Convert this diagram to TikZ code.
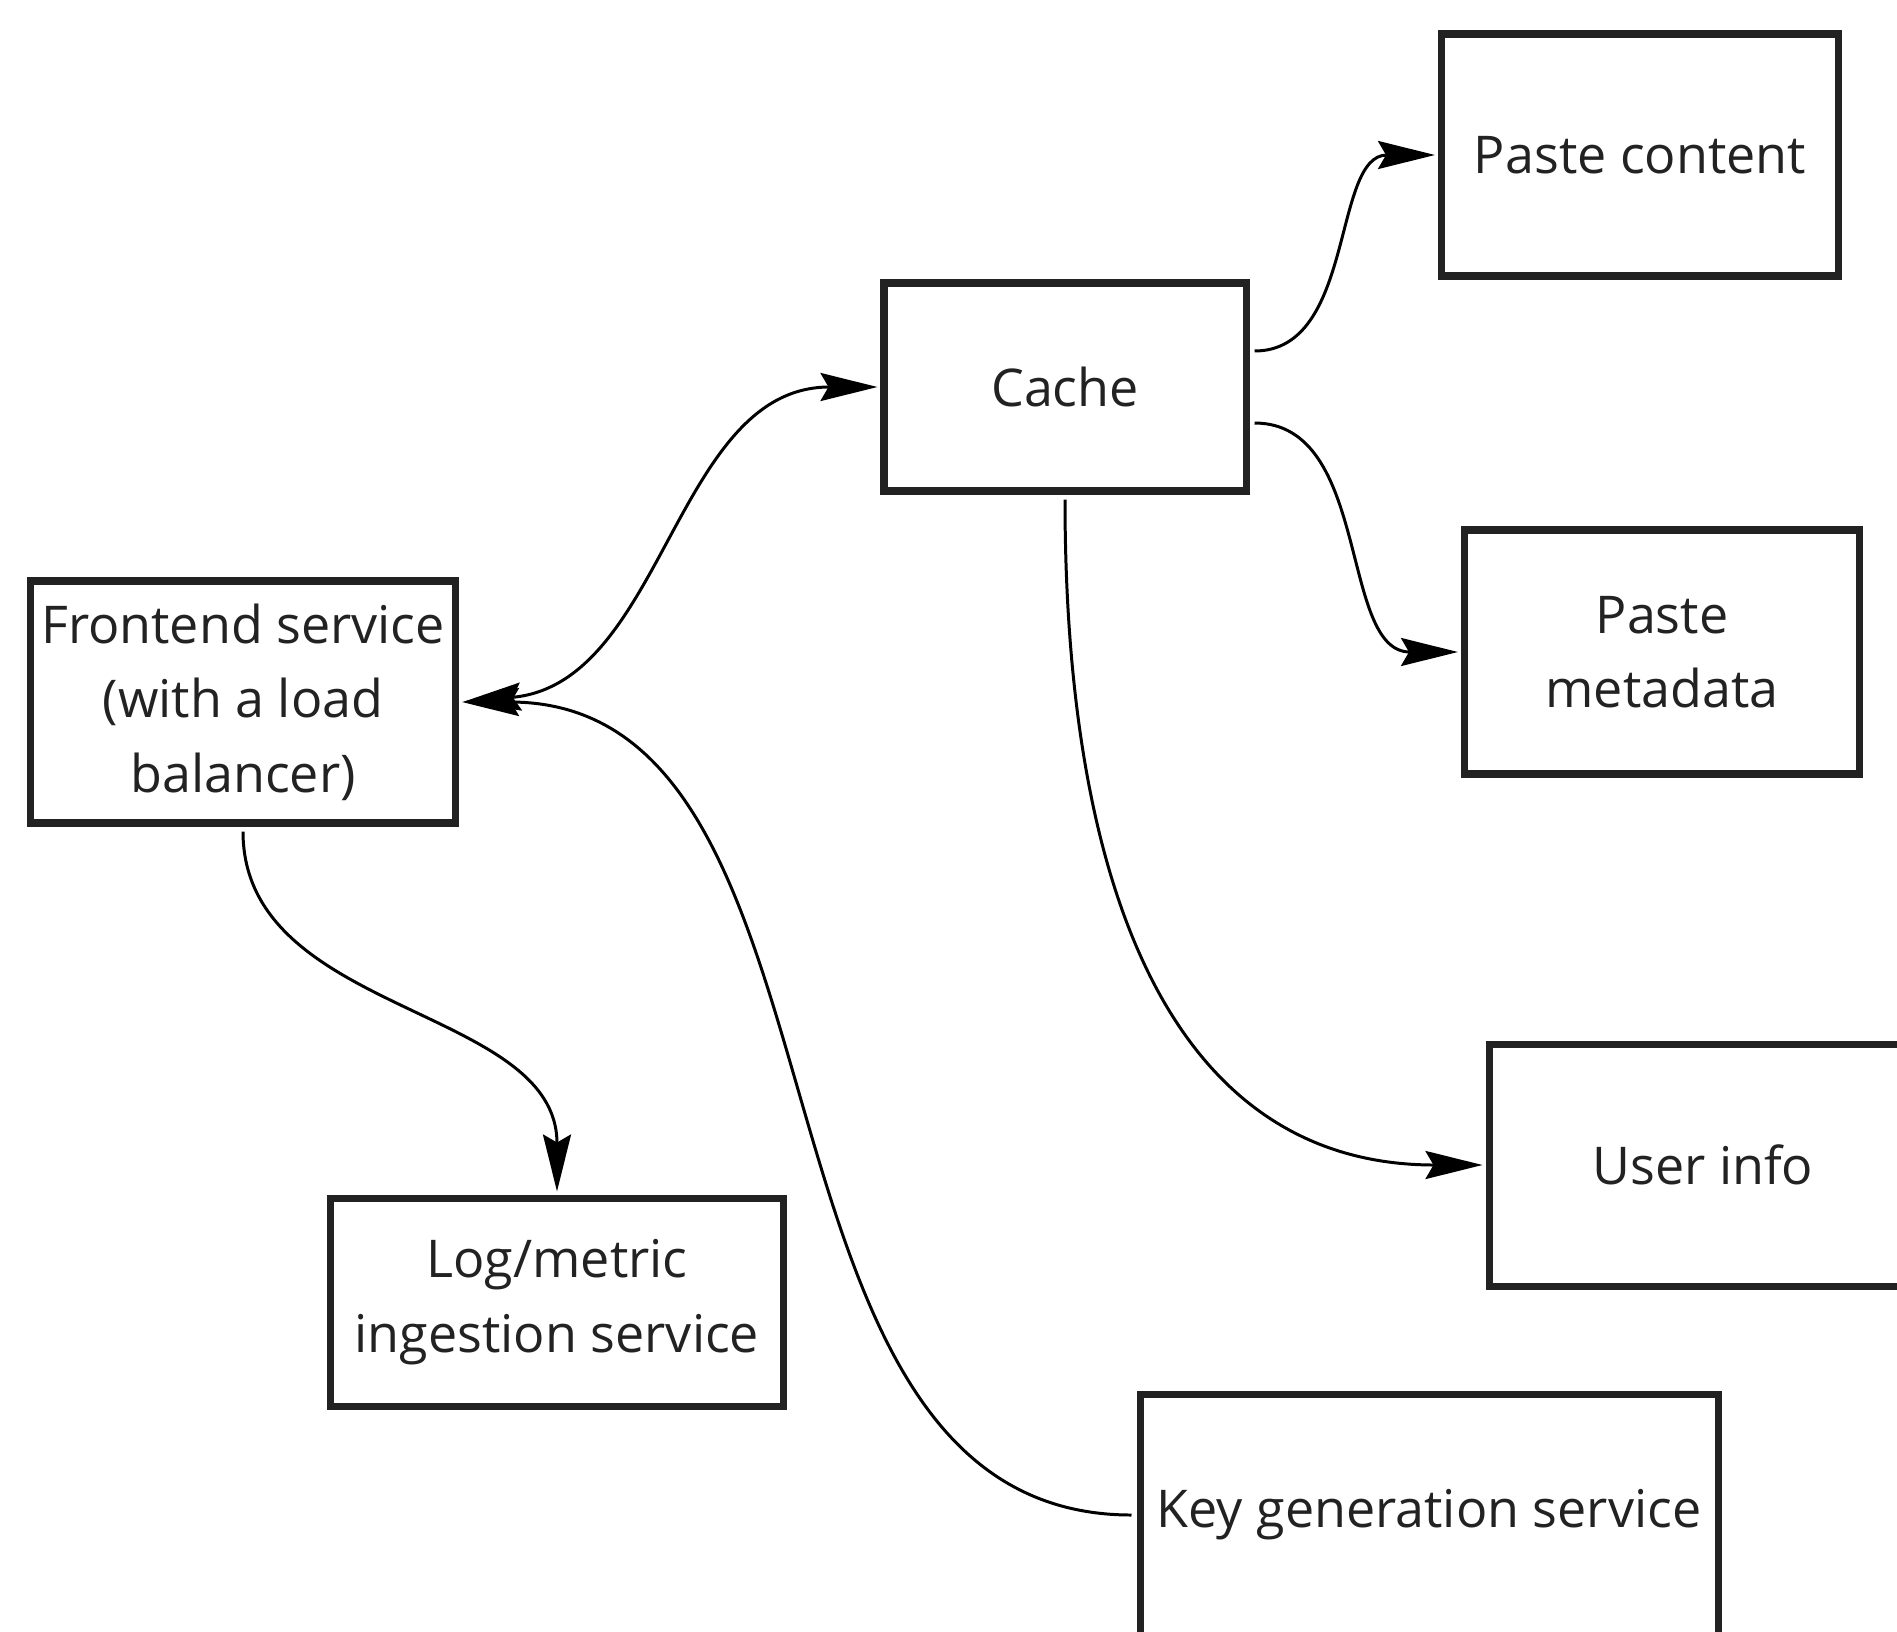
\documentclass[tikz,border=0pt]{standalone}
\definecolor{Ink}{RGB}{34, 34, 34}
\usepackage{fontspec}
\setmainfont{Open Sans}
\usepackage{tikz}
\usetikzlibrary{arrows.meta, positioning}

\begin{document}
\begin{tikzpicture}[
        box/.style={rectangle, draw=Ink, line width=2pt, fill=white, text=Ink, align=center, inner sep=2pt, font=\fontsize{14.8}{21.2}\selectfont},
        arrow/.style={->, line width=0.85pt, >={Stealth[length=5.7mm, width=2.8mm, inset=0.8mm]}, shorten >=0.3mm, shorten <=0.5mm}
    ]
        \useasboundingbox (0,0) rectangle (18.97,-16.31);
        \clip (0,0) rectangle (18.97,-16.31);
        % storage side
        \node[box, minimum width=3.97cm, minimum height=2.42cm] (content) at (16.40,-1.55) {Paste content};
        \node[box, minimum width=3.62cm, minimum height=2.08cm] (cache) at (10.65,-3.87) {Cache};
        \node[box, minimum width=3.95cm, minimum height=2.44cm] (meta) at (16.62,-6.52) {Paste\\metadata};
        \node[box, minimum width=4.28cm, minimum height=2.42cm] (user) at (17.03,-11.65) {User info};
        % services
        \node[box, minimum width=4.25cm, minimum height=2.42cm] (frontend) at (2.43,-7.02) {Frontend service\\(with a load\\balancer)};
        \node[box, minimum width=4.53cm, minimum height=2.08cm] (logs) at (5.57,-13.02) {Log/metric\\ingestion service};
        \node[box, minimum width=5.78cm, minimum height=2.42cm] (keygen) at (14.29,-15.15) {Key generation service};
        \draw[arrow, <->] (frontend.east) to[out=5, in=180] (cache.west);
        \draw[arrow] (keygen.west) to[out=180, in=0] (frontend.east);
        \draw[arrow] (frontend.south) to[out=-90, in=90] (logs.north);
        \draw[arrow] ([yshift=3.6mm]cache.east) to[out=0, in=180] (content.west);
        \draw[arrow] ([yshift=-3.6mm]cache.east) to[out=0, in=180] (meta.west);
        \draw[arrow] (cache.south) to[out=-90, in=180, out looseness=1.3] (user.west);
    \end{tikzpicture}
\end{document}
